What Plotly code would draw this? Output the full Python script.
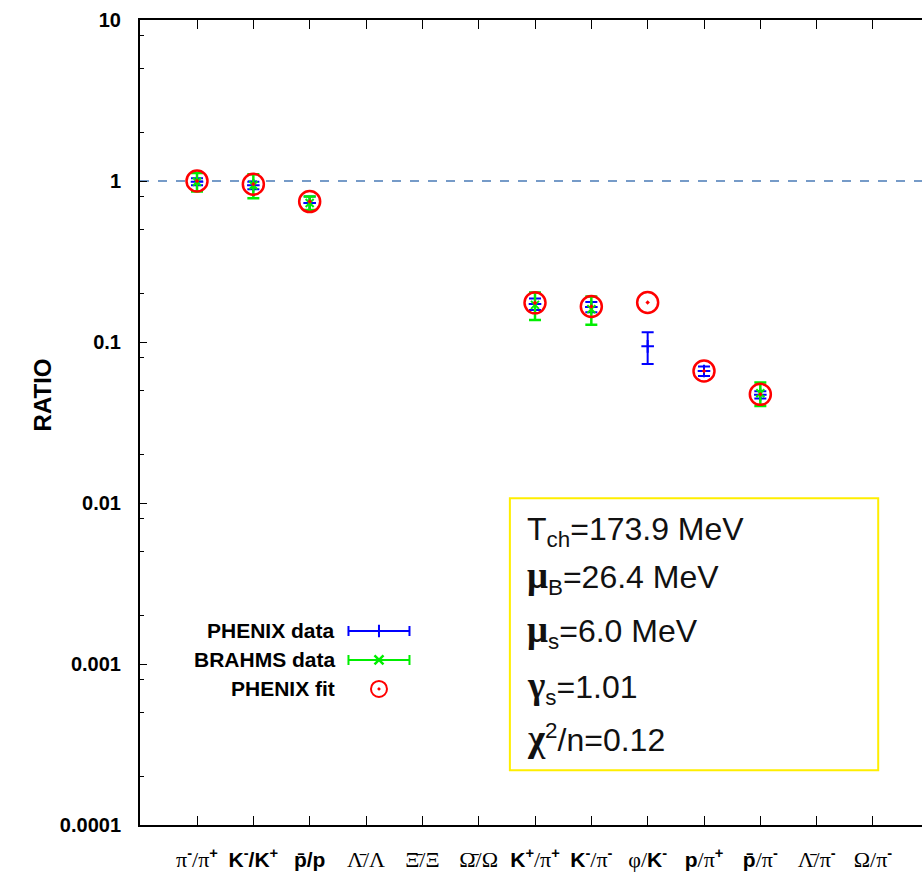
import plotly.graph_objects as go

SERIF = "Liberation Serif"

def g(t):
    return f"<span style='font-family:{SERIF};font-weight:normal;font-size:22px'>{t}</span>"

# categories (1..13)
cat_pos = list(range(1, 14))
cat_labels = [
    g("π") + "<sup>-</sup>" + g("/π") + "<sup>+</sup>",
    "K<sup>-</sup>/K<sup>+</sup>",
    "p\u0304/p",
    g("\u039B\u0304/\u039B"),
    g("\u039E\u0304/\u039E"),
    g("\u03A9\u0304/\u03A9"),
    "K<sup>+</sup>" + g("/π") + "<sup>+</sup>",
    "K<sup>-</sup>" + g("/π") + "<sup>-</sup>",
    g("φ/") + "K<sup>-</sup>",
    "p" + g("/π") + "<sup>+</sup>",
    "p\u0304" + g("/π") + "<sup>-</sup>",
    g("\u039B\u0304/π") + "<sup>-</sup>",
    g("Ω/π") + "<sup>-</sup>",
]

# PHENIX data
phenix_x = [1, 2, 3, 7, 8, 9, 10, 11]
phenix_y = [0.99, 0.94, 0.73, 0.172, 0.165, 0.094, 0.066, 0.047]
phenix_err = [0.05, 0.05, 0.07, 0.014, 0.012, 0.021, 0.0045, 0.0025]

# BRAHMS data
brahms_x = [1, 2, 3, 7, 8, 11]
brahms_y = [0.99, 0.94, 0.73, 0.170, 0.160, 0.048]
brahms_err = [0.13, 0.16, 0.07, 0.033, 0.032, 0.008]

# PHENIX fit
fit_x = [1, 2, 3, 7, 8, 9, 10, 11]
fit_y = [1.0, 0.955, 0.745, 0.175, 0.166, 0.176, 0.066, 0.0473]

# fit parameter text
GK = "<b><span style='font-family:Liberation Serif;font-size:37px'>{}</span></b>"
param_lines = [
    "T<sub>ch</sub>=173.9 MeV",
    GK.format("μ") + "<sub>B</sub>=26.4 MeV",
    GK.format("μ") + "<sub>s</sub>=6.0 MeV",
    GK.format("γ") + "<sub>s</sub>=1.01",
    GK.format("χ") + "<sup>2</sup>/n=0.12",
]

y_tickvals = [1e-4, 1e-3, 1e-2, 1e-1, 1, 10]
y_ticktext = ["0.0001", "0.001", "0.01", "0.1", "1", "10"]
y_minor = [m * 10 ** e for e in range(-4, 1) for m in (2, 5, 8)]

BLUE = "#0000ff"
GREEN = "#00ee00"
RED = "#ff0000"

fig = go.Figure()

fig.add_trace(go.Scatter(
    x=phenix_x, y=phenix_y, mode="markers", name="PHENIX data",
    marker=dict(symbol="cross-thin", size=9, line=dict(color=BLUE, width=2), color=BLUE),
    error_y=dict(type="data", array=phenix_err, color=BLUE, thickness=2, width=6),
    showlegend=False,
))
fig.add_trace(go.Scatter(
    x=brahms_x, y=brahms_y, mode="markers", name="BRAHMS data",
    marker=dict(symbol="x-thin", size=8, line=dict(color=GREEN, width=2), color=GREEN),
    error_y=dict(type="data", array=brahms_err, color=GREEN, thickness=2.5, width=6),
    showlegend=False,
))
fig.add_trace(go.Scatter(
    x=fit_x, y=fit_y, mode="markers", name="PHENIX fit",
    marker=dict(symbol="circle-open-dot", size=21, line=dict(color=RED, width=2.5), color=RED),
    showlegend=False,
))

# legend keys on an overlay axis (paper-like 0..1)
key_x = 0.3056
key_half = 0.039
key_y = [0.241, 0.205, 0.169]
fig.add_trace(go.Scatter(
    x=[key_x], y=[key_y[0]], xaxis="x2", yaxis="y2", mode="markers",
    marker=dict(symbol="cross-thin", size=9, line=dict(color=BLUE, width=2)),
    error_x=dict(type="constant", value=key_half, color=BLUE, thickness=2, width=5),
    showlegend=False, hoverinfo="skip",
))
fig.add_trace(go.Scatter(
    x=[key_x], y=[key_y[1]], xaxis="x2", yaxis="y2", mode="markers",
    marker=dict(symbol="x-thin", size=9, line=dict(color=GREEN, width=2.5)),
    error_x=dict(type="constant", value=key_half, color=GREEN, thickness=2, width=5),
    showlegend=False, hoverinfo="skip",
))
fig.add_trace(go.Scatter(
    x=[key_x], y=[key_y[2]], xaxis="x2", yaxis="y2", mode="markers",
    marker=dict(symbol="circle-open-dot", size=16, line=dict(color=RED, width=2), color=RED),
    showlegend=False, hoverinfo="skip",
))

legend_names = ["PHENIX data", "BRAHMS data", "PHENIX fit"]
annotations = []
for name, yy in zip(legend_names, key_y):
    annotations.append(dict(
        x=0.252, y=yy, xref="paper", yref="paper", text=f"<b>{name}</b>",
        showarrow=False, xanchor="right", yanchor="middle",
        font=dict(family="Liberation Sans", size=21, color="black"),
    ))

param_y = [0.365, 0.307, 0.240, 0.171, 0.107]
for line, yy in zip(param_lines, param_y):
    annotations.append(dict(
        x=0.492, y=yy, xref="paper", yref="paper", text=line,
        showarrow=False, xanchor="left", yanchor="middle",
        font=dict(family="Liberation Sans", size=32, color="#111111"),
    ))

annotations.append(dict(
    x=-0.125, y=0.534, xref="paper", yref="paper", text="<b>RATIO</b>",
    textangle=-90, showarrow=False, xanchor="center", yanchor="middle",
    font=dict(family="Liberation Sans", size=24, color="black"),
))

shapes = [
    dict(type="line", xref="paper", yref="y", x0=0, x1=1, y0=1, y1=1,
         line=dict(color="#4a7bb7", width=1.5, dash="dash"), layer="below"),
    dict(type="rect", xref="paper", yref="paper", x0=0.473, x1=0.944, y0=0.068, y1=0.406,
         line=dict(color="#ffee00", width=2), fillcolor="rgba(0,0,0,0)"),
]

fig.update_layout(
    width=922, height=878,
    margin=dict(l=140, r=0, t=20, b=53),
    paper_bgcolor="white", plot_bgcolor="white",
    showlegend=False,
    annotations=annotations,
    shapes=shapes,
    xaxis=dict(
        range=[-0.012, 13.87], tickmode="array", tickvals=cat_pos, ticktext=cat_labels,
        showgrid=False, zeroline=False, showline=True, linecolor="black", linewidth=2,
        mirror="ticks", ticks="inside", ticklen=9, tickwidth=1.2, tickcolor="black",
        tickfont=dict(family="Liberation Sans", size=21, color="black", weight="bold"),
        ticklabelstandoff=15,
    ),
    yaxis=dict(
        type="log", range=[-4, 1], tickmode="array", tickvals=y_tickvals, ticktext=y_ticktext,
        showgrid=False, zeroline=False, showline=True, linecolor="black", linewidth=2,
        ticks="inside", ticklen=7, tickwidth=1.2, tickcolor="black",
        tickfont=dict(family="Liberation Sans", size=20, color="black", weight="bold"),
        ticklabelstandoff=13,
        minor=dict(tickmode="array", tickvals=y_minor, ticks="inside", ticklen=4,
                   tickcolor="black", tickwidth=1, showgrid=False),
    ),
    xaxis2=dict(domain=[0, 1], range=[0, 1], overlaying="x", visible=False, anchor="y2"),
    yaxis2=dict(domain=[0, 1], range=[0, 1], overlaying="y", visible=False, anchor="x2"),
)

fig.write_html(
    "out.html",
    config={"displayModeBar": False},
    post_script="document.body.style.margin='0';document.body.style.overflow='hidden';",
)
